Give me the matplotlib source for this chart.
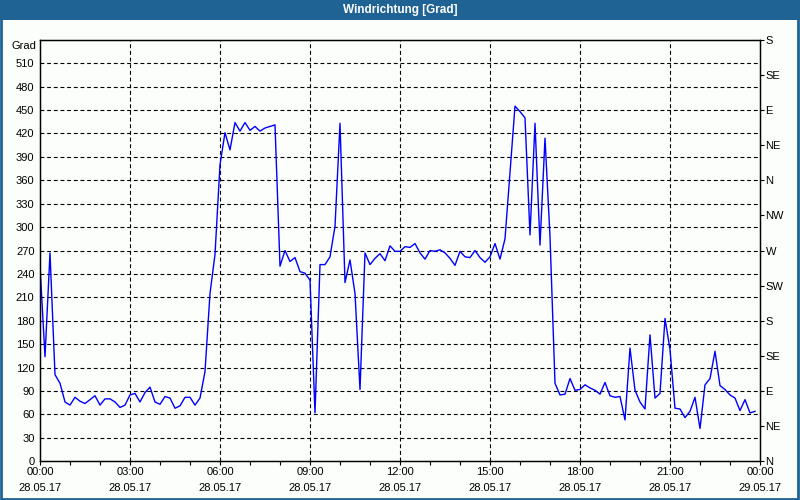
import numpy as np
import pandas as pd
import matplotlib
matplotlib.use("Agg")
import matplotlib.pyplot as plt
import matplotlib.dates as mdates
from matplotlib.patches import Rectangle

# wind direction in degrees, one reading every 10 minutes (28.05.17 00:00 - 23:50)
start = "2017-05-28 00:00"
end = "2017-05-29 00:00"
grad = [250, 134, 267, 111, 100, 76, 72, 82, 77, 74,
        79, 84, 72, 80, 80, 76, 69, 72, 85, 87,
        76, 88, 95, 76, 73, 83, 81, 68, 71, 82,
        82, 72, 81, 115, 215, 265, 380, 421, 399, 434,
        423, 434, 424, 429, 423, 427, 429, 431, 250, 270,
        256, 261, 243, 241, 232, 62, 252, 252, 262, 301,
        433, 229, 258, 215, 92, 267, 252, 260, 266, 257,
        276, 269, 269, 275, 274, 279, 267, 259, 270, 269,
        271, 267, 260, 251, 269, 262, 261, 270, 261, 255,
        262, 279, 259, 285, 370, 455, 448, 440, 290, 433,
        277, 414, 288, 100, 85, 86, 106, 91, 92, 98,
        94, 91, 86, 101, 84, 82, 83, 53, 145, 91,
        76, 67, 162, 81, 87, 183, 143, 68, 67, 56,
        64, 82, 42, 98, 106, 141, 97, 92, 85, 81,
        65, 79, 62, 64]
times = pd.date_range(start, periods=len(grad), freq="10min")

y_ticks = list(range(0, 540, 30))
dir_ticks = list(range(0, 541, 45))
dir_labels = ["N", "NE", "E", "SE", "S", "SW", "W", "NW",
              "N", "NE", "E", "SE", "S"]

title = "Windrichtung [Grad]"
blue = "#1e6394"
bg = "#fbfefb"

plt.rcParams["font.family"] = ["Liberation Sans", "DejaVu Sans"]
plt.rcParams["font.size"] = 8

fig = plt.figure(figsize=(8, 5), dpi=100)
fig.patch.set_facecolor(bg)

# title bar and frame
fig.patches.append(Rectangle((0, 0.96), 1, 0.04, transform=fig.transFigure,
                             facecolor=blue, edgecolor="none"))
fig.patches.append(Rectangle((0.001, 0.002), 0.997, 0.99, transform=fig.transFigure,
                             facecolor="none", edgecolor=blue, linewidth=2))
fig.text(0.5, 0.98, title, color="white", fontsize=8.5, fontweight="bold",
         ha="center", va="center")

ax = fig.add_axes([0.05, 0.0774, 0.9, 0.843])
ax.set_facecolor(bg)
ax.plot(times, grad, color="#0000ff", linewidth=1.0)

ax.set_ylim(0, 540)
ax.set_xlim(pd.Timestamp(start), pd.Timestamp(end))
ax.set_yticks(y_ticks)
ax.tick_params(axis="y", length=0, pad=4, colors="black")

ax.xaxis.set_minor_locator(mdates.HourLocator())
ax.tick_params(axis="x", which="both", direction="out", length=3, width=0.8, pad=1)

# last label belongs to the next day
major = pd.date_range(start, end, freq="3h")
ax.set_xticks(major)
ax.set_xticklabels([t.strftime("%H:%M\n%d.%m.%y") for t in major], linespacing=1.75)

for y in y_ticks[1:]:
    ax.axhline(y, color="black", linewidth=0.8, linestyle=(0, (3.5, 2.5)), zorder=0)
for t in major[1:-1]:
    ax.axvline(t, color="black", linewidth=0.8, linestyle=(0, (3.5, 2.5)), zorder=0)

for s in ax.spines.values():
    s.set_linewidth(1.0)

ax2 = ax.twinx()
ax2.set_ylim(0, 540)
ax2.set_yticks(dir_ticks)
ax2.set_yticklabels(dir_labels)
ax2.tick_params(axis="y", direction="out", length=3, width=0.8, pad=1)

fig.text(36 / 800, 1 - 46 / 500, "Grad", ha="right", va="center", fontsize=8)

fig.savefig("out.png", dpi=100, facecolor=fig.get_facecolor())
